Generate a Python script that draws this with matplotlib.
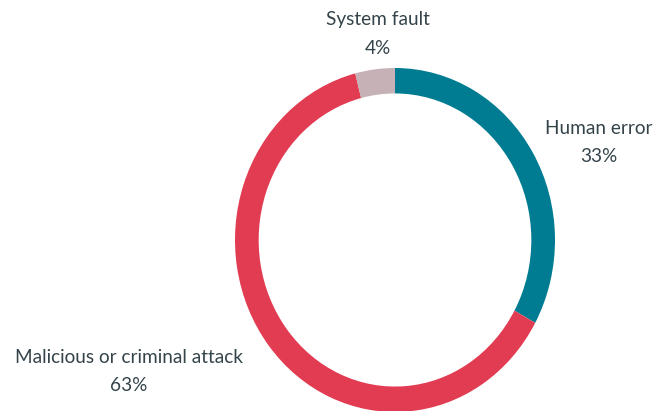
import matplotlib.pyplot as plt

categories = ["Human error", "Malicious or criminal attack", "System fault"]
shares = [33, 63, 4]
colors = ["#007C92", "#E23C52", "#C6B2B6"]

# label anchor points in pixels (x, y from top)
label_pos = [(599, 128), (129, 357), (378, 20)]

W, H = 657, 411
fig = plt.figure(figsize=(W / 100, H / 100), dpi=100)

# donut is a bit taller than wide in the source image
cx, cy, rx, ry = 395, 240, 160, 172
ax = fig.add_axes([(cx - rx) / W, (H - cy - ry) / H, 2 * rx / W, 2 * ry / H])
ax.pie(shares, colors=colors, startangle=90, counterclock=False,
       radius=1, wedgeprops=dict(width=0.148, linewidth=0))
ax.set_aspect("auto")
ax.set_xlim(-1, 1)
ax.set_ylim(-1, 1)
ax.axis("off")

txt_color = "#34444A"
for name, val, (x, y) in zip(categories, shares, label_pos):
    fig.text(x / W, 1 - y / H, name, ha="center", va="center",
             fontsize=13.7, family="Lato", color=txt_color)
    fig.text(x / W, 1 - (y + 28) / H, f"{val}%", ha="center", va="center",
             fontsize=13.7, family="Lato", color=txt_color)

fig.savefig("out.png", dpi=100)
